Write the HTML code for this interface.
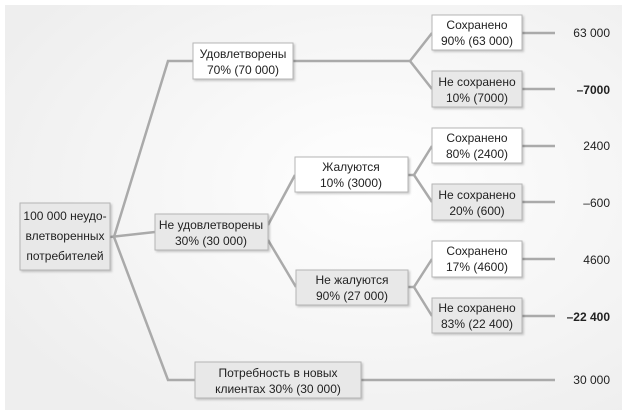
<!DOCTYPE html>
<html><head><meta charset="utf-8"><style>
html,body{margin:0;padding:0;background:#fff}
svg{display:block}
text{font-family:"Liberation Sans",sans-serif;font-size:12px;fill:#222}
</style></head><body>
<svg width="630" height="416" viewBox="0 0 630 416">
<defs>
<radialGradient id="bg" cx="0.6" cy="0.45" r="0.7">
<stop offset="0" stop-color="#ffffff"/><stop offset="1" stop-color="#eeeeee"/>
</radialGradient>
<filter id="sh" x="-10%" y="-10%" width="130%" height="140%"><feDropShadow dx="1.5" dy="1.5" stdDeviation="1" flood-color="#000" flood-opacity="0.2"/></filter>
</defs>
<rect x="5" y="5" width="617" height="405" fill="url(#bg)"/>
<g stroke="#aaa" stroke-width="2.5" fill="none">
<polyline points="193,61 168,61 114,237 168,380 195,380"/>
<line x1="110" y1="237" x2="155" y2="232"/>
<polyline points="293,61 410,61 432,33"/>
<line x1="410" y1="61" x2="432" y2="89"/>
<polyline points="268,225 295,175"/>
<polyline points="268,240 296,287"/>
<polyline points="432,146 414,175 432,202"/>
<line x1="408" y1="175" x2="414" y2="175"/>
<polyline points="432,259 414,287 432,316"/>
<line x1="408" y1="287" x2="414" y2="287"/>
<line x1="522" y1="33" x2="555" y2="33"/>
<line x1="522" y1="89" x2="555" y2="89"/>
<line x1="522" y1="146" x2="555" y2="146"/>
<line x1="522" y1="202" x2="555" y2="202"/>
<line x1="522" y1="259" x2="555" y2="259"/>
<line x1="522" y1="316" x2="555" y2="316"/>
<line x1="361" y1="380" x2="555" y2="380"/>
</g>
<g stroke="#b5b5b5" stroke-width="1" filter="url(#sh)">
<rect x="20" y="203" width="90" height="67" fill="#e8e8e8"/>
<rect x="193" y="43" width="100" height="36" fill="#fff"/>
<rect x="155" y="214" width="113" height="36" fill="#e8e8e8"/>
<rect x="195" y="362" width="166" height="36" fill="#e8e8e8"/>
<rect x="295" y="157" width="113" height="35" fill="#fff"/>
<rect x="296" y="270" width="112" height="35" fill="#e8e8e8"/>
<rect x="432" y="15" width="90" height="35" fill="#fff"/>
<rect x="432" y="71" width="90" height="36" fill="#e8e8e8"/>
<rect x="432" y="128" width="90" height="35" fill="#fff"/>
<rect x="432" y="184" width="90" height="36" fill="#e8e8e8"/>
<rect x="432" y="241" width="90" height="36" fill="#fff"/>
<rect x="432" y="298" width="90" height="35" fill="#e8e8e8"/>
</g>
<g text-anchor="middle">
<text x="65" y="220">100 000 неудо-</text><text x="65" y="240">влетворенных</text><text x="65" y="260">потребителей</text>
<text x="243" y="58">Удовлетворены</text><text x="243" y="74">70% (70 000)</text>
<text x="211" y="229">Не удовлетворены</text><text x="211" y="245">30% (30 000)</text>
<text x="278" y="377">Потребность в новых</text><text x="278" y="393">клиентах 30% (30 000)</text>
<text x="351" y="171">Жалуются</text><text x="351" y="187">10% (3000)</text>
<text x="352" y="284">Не жалуются</text><text x="352" y="300">90% (27 000)</text>
<text x="477" y="29">Сохранено</text><text x="477" y="45">90% (63 000)</text>
<text x="477" y="86">Не сохранено</text><text x="477" y="102">10% (7000)</text>
<text x="477" y="142">Сохранено</text><text x="477" y="158">80% (2400)</text>
<text x="477" y="199">Не сохранено</text><text x="477" y="215">20% (600)</text>
<text x="477" y="255">Сохранено</text><text x="477" y="271">17% (4600)</text>
<text x="477" y="312">Не сохранено</text><text x="477" y="328">83% (22 400)</text>
</g>
<g text-anchor="end">
<text x="610" y="37">63 000</text>
<text x="610" y="94" font-weight="bold">–7000</text>
<text x="610" y="150">2400</text>
<text x="610" y="207">–600</text>
<text x="610" y="264">4600</text>
<text x="610" y="321" font-weight="bold">–22 400</text>
<text x="610" y="384">30 000</text>
</g>
</svg>
</body></html>
